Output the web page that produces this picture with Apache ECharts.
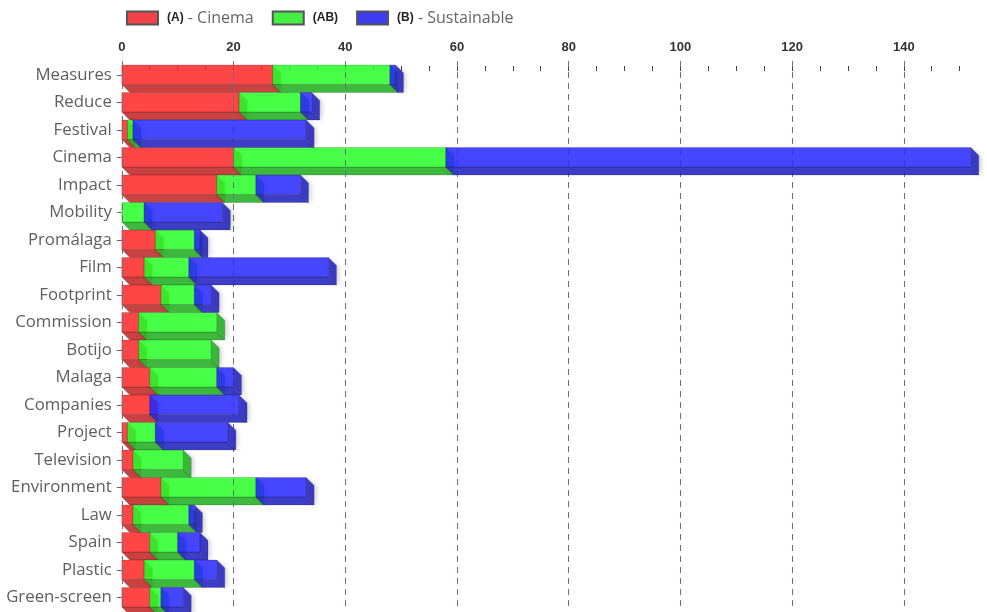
<!DOCTYPE html>
<html><head><meta charset="utf-8">
<script src="https://cdn.jsdelivr.net/npm/echarts@6/dist/echarts.min.js"></script>
<style>html,body{margin:0;padding:0;background:#fff}#c{width:987px;height:612px}</style>
</head><body><div id="c"></div>
<script>
const categories = ['Measures','Reduce','Festival','Cinema','Impact','Mobility','Promálaga','Film','Footprint','Commission','Botijo','Malaga','Companies','Project','Television','Environment','Law','Spain','Plastic','Green-screen'];
const cinemaA      = [27,21, 1,20,17, 0, 6, 4, 7, 3, 3, 5, 5, 1, 2, 7, 2, 5, 4, 5];
const bothAB       = [21,11, 1,38, 7, 4, 7, 8, 6,14,13,12, 0, 5, 9,17,10, 5, 9, 2];
const sustainableB = [ 1, 2,31,94, 8,14, 1,25, 3, 0, 0, 3,16,13, 0, 9, 1, 4, 4, 4];
const seriesNames = ['(A) - Cinema', '(AB)', '(B) - Sustainable'];
const tickValues = [0,5,10,15,20,25,30,35,40,45,50,55,60,65,70,75,80,85,90,95,100,105,110,115,120,125,130,135,140,145,150];
const labelValues = [0,20,40,60,80,100,120,140];

const frontColors = ['rgba(255,40,40,0.86)', 'rgba(40,255,40,0.86)', 'rgba(40,40,255,0.86)'];
const depthColors = ['rgba(195,50,50,0.92)', 'rgba(45,180,45,0.92)', 'rgba(45,45,195,0.92)'];
const legendColors = ['#f2424a', '#44ee44', '#3c3cf0'];

const stacks = [cinemaA, bothAB, sustainableB];
function segData(k) {
  return categories.map((c, i) => {
    let s = 0;
    for (let j = 0; j < k; j++) s += stacks[j][i];
    return [s, s + stacks[k][i], i];
  });
}

function makeRender(k) {
  return function (params, api) {
    const s = api.value(0), e = api.value(1), c = api.value(2);
    if (e - s <= 0) return { type: 'group', children: [] };
    const p0 = api.coord([s, c]);
    const p1 = api.coord([e, c]);
    const band = api.size([0, 1])[1];
    const d = band * 0.29;
    const h = band - d;
    const yt = p0[1] - h / 2, yb = yt + h;
    const x0 = p0[0], x1 = p1[0];
    const edge = 'rgba(0,0,0,0.28)';
    return {
      type: 'group',
      children: [
        { type: 'polygon', shape: { points: [[x0, yb], [x1, yb], [x1 + d, yb + d], [x0 + d, yb + d]] },
          style: { fill: depthColors[k], stroke: edge, lineWidth: 0.6 } },
        { type: 'polygon', shape: { points: [[x1, yt], [x1 + d, yt + d], [x1 + d, yb + d], [x1, yb]] },
          style: { fill: depthColors[k], stroke: edge, lineWidth: 0.6,
                   shadowBlur: 5, shadowOffsetX: 2, shadowOffsetY: 1, shadowColor: 'rgba(0,0,0,0.22)' } },
        { type: 'rect', shape: { x: x0, y: yt, width: x1 - x0, height: h },
          style: { fill: frontColors[k], stroke: edge, lineWidth: 0.6 } }
      ]
    };
  };
}

const chart = echarts.init(document.getElementById('c'));
const fontFam = 'Open Sans';
const legendRich = {
  '(A) - Cinema': '{b|(A)}{n| - Cinema}',
  '(AB)': '{b|(AB)}',
  '(B) - Sustainable': '{b|(B)}{n| - Sustainable}'
};

const series = seriesNames.map((name, k) => ({
  name: name,
  type: 'custom',
  renderItem: makeRender(k),
  encode: { x: [0, 1], y: 2 },
  itemStyle: { color: legendColors[k], borderColor: '#555', borderWidth: 1 },
  data: segData(k),
  z: 3 + k
}));
series.unshift({
  name: 'grid',
  type: 'line',
  data: [],
  z: 1,
  markLine: {
    silent: true,
    symbol: ['none', 'none'],
    label: { show: false },
    lineStyle: { type: [6, 5], color: '#6b6b8c', width: 1 },
    data: labelValues.map(v => ({ xAxis: v }))
  }
});

chart.setOption({
  animation: false,
  backgroundColor: '#fff',
  legend: {
    data: seriesNames,
    left: 121,
    top: 5,
    icon: 'rect',
    itemWidth: 31,
    itemHeight: 13,
    itemGap: 18,
    formatter: n => legendRich[n],
    textStyle: {
      padding: [0, 0, 0, 4],
      rich: {
        b: { fontFamily: 'Liberation Sans', fontWeight: 'bold', fontSize: 12, color: '#222' },
        n: { fontFamily: fontFam, fontSize: 16, color: '#666' }
      }
    }
  },
  grid: { left: 121.8, right: 16.2, top: 61, bottom: 1, containLabel: false },
  xAxis: {
    type: 'value',
    position: 'top',
    min: 0,
    max: 152,
    offset: -5,
    axisLine: { show: false },
    axisTick: { show: true, inside: true, length: 5, customValues: tickValues, lineStyle: { color: '#444', width: 1 } },
    axisLabel: { customValues: labelValues, fontFamily: 'Liberation Sans', fontWeight: 'bold', fontSize: 13, color: '#333', margin: 12 },
    splitLine: { show: false }
  },
  yAxis: {
    type: 'category',
    inverse: true,
    data: categories,
    axisLine: { show: false },
    axisTick: { show: true, alignWithLabel: true, length: 5, lineStyle: { color: '#666' } },
    axisLabel: { fontFamily: fontFam, fontSize: 16.8, color: '#5e5e5e', margin: 10 }
  },
  series: series
});
</script></body></html>
